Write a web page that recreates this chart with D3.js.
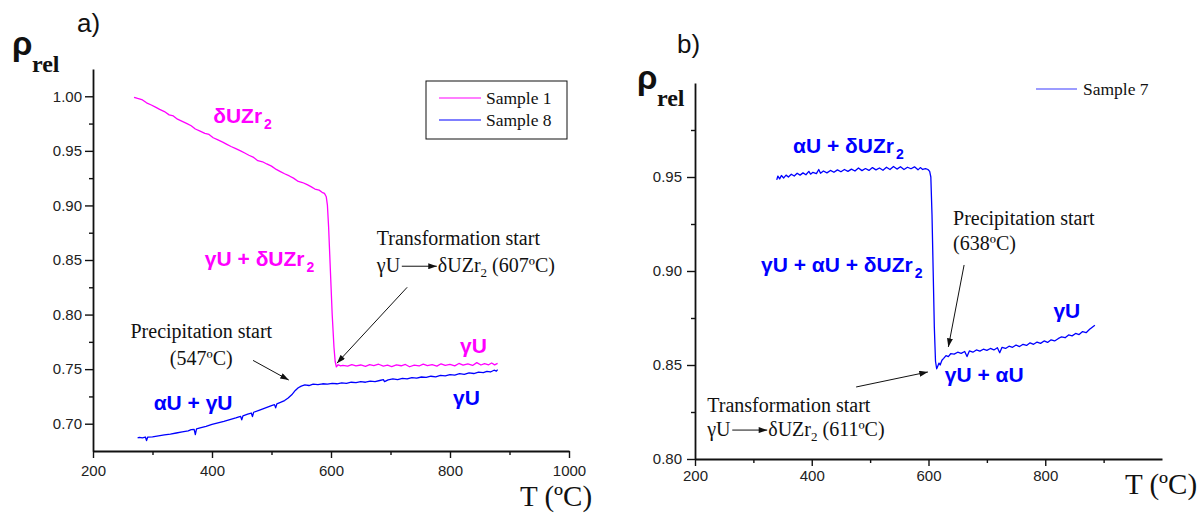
<!DOCTYPE html>
<html><head><meta charset="utf-8">
<script src="https://cdn.jsdelivr.net/npm/d3@7"></script>
<style>body{margin:0;background:#fff}</style></head>
<body>
<svg id="c" width="1204" height="513" xmlns="http://www.w3.org/2000/svg"></svg>
<script>
// ---------- data ----------
const legendA = ["Sample 1", "Sample 8"];
const legendB = ["Sample 7"];

// Sample 1 (panel a, magenta): [T ºC, rho_rel]
const sample1 = [[269,0.999],[275,0.998],[282,0.997],[290,0.994],[298,0.992],[305,0.990],[312,0.988],[320,0.986],[328,0.983],[335,0.982],[342,0.979],[350,0.977],[358,0.975],[365,0.973],[372,0.970],[380,0.968],[388,0.966],[395,0.965],[402,0.962],[410,0.960],[418,0.958],[425,0.956],[432,0.954],[440,0.952],[448,0.950],[455,0.948],[462,0.946],[470,0.944],[477,0.941],[485,0.940],[492,0.938],[500,0.936],[508,0.933],[515,0.931],[522,0.929],[530,0.927],[537,0.925],[545,0.922],[552,0.921],[560,0.919],[567,0.917],[573,0.915],[580,0.914],[585,0.912],[589,0.911],[592,0.908],[594,0.900],[596,0.880],[599,0.840],[602,0.800],[605,0.770],[607,0.757],[609,0.752],[612,0.754],[616,0.753],[620,0.7535],[628,0.7528],[635,0.7542],[642,0.7530],[650,0.7538],[658,0.7526],[665,0.7541],[672,0.7532],[680,0.7545],[688,0.7528],[695,0.7536],[702,0.7524],[710,0.7540],[718,0.7531],[725,0.7543],[732,0.7522],[740,0.7537],[748,0.7529],[755,0.7546],[762,0.7533],[770,0.7541],[778,0.7528],[785,0.7549],[792,0.7535],[800,0.7544],[808,0.7530],[815,0.7552],[822,0.7536],[830,0.7548],[838,0.7534],[845,0.7560],[852,0.7538],[858,0.7551],[865,0.7540],[870,0.7556],[875,0.7539],[880,0.7553]];

// Sample 8 (panel a, blue)
const sample8 = [[275,0.6870],[278,0.6875],[283,0.6870],[288,0.6878],[290,0.6845],[292,0.6878],[300,0.6880],[310,0.6888],[320,0.6897],[330,0.6905],[340,0.6915],[350,0.6925],[360,0.6935],[365,0.6945],[370,0.6948],[372,0.6900],[374,0.6952],[380,0.6962],[390,0.6975],[400,0.6993],[410,0.7008],[420,0.7022],[430,0.7038],[440,0.7054],[448,0.7068],[450,0.7035],[452,0.7072],[460,0.7088],[466,0.7098],[468,0.7065],[470,0.7105],[480,0.7125],[490,0.7145],[500,0.7165],[505,0.7175],[507,0.7145],[509,0.7182],[515,0.7195],[522,0.7212],[528,0.7235],[534,0.7265],[540,0.7305],[545,0.7330],[550,0.7345],[556,0.7355],[563,0.7350],[570,0.7362],[578,0.7358],[586,0.7366],[594,0.7362],[602,0.7370],[610,0.7366],[618,0.7375],[626,0.7370],[634,0.7380],[642,0.7376],[650,0.7385],[658,0.7380],[666,0.7390],[674,0.7386],[682,0.7396],[688,0.7404],[690,0.7385],[696,0.7402],[704,0.7410],[712,0.7404],[720,0.7415],[728,0.7410],[736,0.7422],[744,0.7418],[752,0.7428],[760,0.7424],[768,0.7435],[776,0.7430],[784,0.7442],[792,0.7438],[800,0.7450],[808,0.7446],[816,0.7458],[824,0.7452],[832,0.7465],[840,0.7460],[848,0.7472],[856,0.7468],[862,0.7480],[868,0.7474],[874,0.7490],[878,0.7482],[880,0.7495]];

// Sample 7 (panel b, blue)
const sample7 = [[340,0.9485],[342,0.9505],[345,0.9490],[348,0.9508],[352,0.9495],[356,0.9510],[360,0.9500],[365,0.9515],[370,0.9505],[375,0.9520],[380,0.9510],[385,0.9522],[390,0.9512],[395,0.9530],[398,0.9515],[402,0.9525],[408,0.9518],[412,0.9540],[415,0.9520],[420,0.9532],[426,0.9522],[432,0.9535],[438,0.9525],[444,0.9538],[450,0.9528],[456,0.9540],[462,0.9530],[468,0.9542],[474,0.9532],[480,0.9548],[486,0.9534],[492,0.9545],[498,0.9535],[504,0.9550],[510,0.9538],[516,0.9548],[522,0.9536],[528,0.9552],[534,0.9540],[540,0.9556],[546,0.9542],[552,0.9555],[558,0.9540],[564,0.9552],[570,0.9544],[576,0.9554],[582,0.9538],[586,0.9550],[590,0.9540],[595,0.9545],[599,0.9540],[602,0.9530],[604,0.9500],[606,0.9300],[608,0.9000],[610,0.8700],[612,0.8520],[614,0.8480],[616,0.8495],[618,0.8510],[620,0.8500],[623,0.8525],[626,0.8535],[630,0.8550],[634,0.8545],[638,0.8560],[644,0.8558],[650,0.8568],[656,0.8562],[662,0.8572],[666,0.8545],[670,0.8575],[676,0.8568],[682,0.8580],[688,0.8574],[694,0.8584],[700,0.8578],[706,0.8588],[712,0.8580],[718,0.8592],[722,0.8565],[726,0.8594],[732,0.8588],[738,0.8600],[744,0.8594],[750,0.8606],[756,0.8598],[762,0.8610],[768,0.8604],[774,0.8618],[780,0.8610],[786,0.8622],[792,0.8615],[798,0.8628],[804,0.8620],[810,0.8634],[816,0.8628],[822,0.8640],[828,0.8650],[834,0.8645],[840,0.8660],[846,0.8655],[852,0.8668],[858,0.8662],[864,0.8678],[870,0.8672],[876,0.8690],[880,0.8700],[885,0.8712]];

// ticks
const xTicksA = [200, 400, 600, 800, 1000];
const xMinorA = [300, 500, 700, 900];
const yTicksA = [0.70, 0.75, 0.80, 0.85, 0.90, 0.95, 1.00];
const yMinorA = [0.725, 0.775, 0.825, 0.875, 0.925, 0.975];
const xTicksB = [200, 400, 600, 800];
const xMinorB = [300, 500, 700, 900];
const yTicksB = [0.80, 0.85, 0.90, 0.95];
const yMinorB = [0.825, 0.875, 0.925, 0.975];

// phase labels: [T, rho, text, subscript, colour]
const phasesA = [
  [402, 0.9753, "δUZr", "2", "#ff00ff"],
  [388, 0.8443, "γU + δUZr", "2", "#ff00ff"],
  [817, 0.7647, "γU", "", "#ff00ff"],
  [805, 0.7170, "γU", "", "#0000ff"],
  [302, 0.7125, "αU + γU", "", "#0000ff"]
];
const phasesB = [
  [368, 0.9628, "αU + δUZr", "2", "#0000ff"],
  [313, 0.8995, "γU + αU + δUZr", "2", "#0000ff"],
  [814, 0.8750, "γU", "", "#0000ff"],
  [628, 0.8410, "γU + αU", "", "#0000ff"]
];

// ---------- drawing ----------
const svg = d3.select("#c");
const SANS = "'Liberation Sans', Arial, sans-serif";
const SERIF = "'Liberation Serif', 'Times New Roman', serif";

const defs = svg.append("defs");
defs.append("marker").attr("id","ah").attr("viewBox","0 0 10 7")
  .attr("refX",10).attr("refY",3.5).attr("markerWidth",9).attr("markerHeight",6)
  .attr("markerUnits","userSpaceOnUse").attr("orient","auto")
  .append("path").attr("d","M0,0 L10,3.5 L0,7 Z").attr("fill","#111");

const xA = d3.scaleLinear().domain([200, 1000]).range([93, 569]);
const yA = d3.scaleLinear().domain([0.675, 1.025]).range([451, 69]);
const xB = d3.scaleLinear().domain([200, 1000]).range([695, 1162]);
const yB = d3.scaleLinear().domain([0.80, 1.00]).range([459, 83]);

function drawAxes(x, y, xt, xm, yt, ym, yOrigin, xOrigin, xPad, yPad) {
  const g = svg.append("g");
  g.append("g").attr("transform", `translate(0,${yOrigin})`)
    .call(d3.axisBottom(x).tickValues(xm).tickSize(4).tickSizeOuter(0).tickFormat(""))
    .call(s => s.select(".domain").remove());
  g.append("g").attr("transform", `translate(${xOrigin},0)`)
    .call(d3.axisLeft(y).tickValues(ym).tickSize(4).tickSizeOuter(0).tickFormat(""))
    .call(s => s.select(".domain").remove());
  g.append("g").attr("transform", `translate(0,${yOrigin})`)
    .call(d3.axisBottom(x).tickValues(xt).tickSize(7).tickSizeOuter(0).tickPadding(xPad).tickFormat(d3.format("d")));
  g.append("g").attr("transform", `translate(${xOrigin},0)`)
    .call(d3.axisLeft(y).tickValues(yt).tickSize(8).tickSizeOuter(0).tickPadding(yPad).tickFormat(d3.format(".2f")));
  g.selectAll(".domain").attr("stroke", "#111").attr("stroke-width", 1.8);
  g.selectAll(".tick line").attr("stroke", "#111").attr("stroke-width", 1.4);
  g.selectAll(".tick text").attr("font-family", SANS).attr("font-size", 15).attr("fill", "#222");
}

drawAxes(xA, yA, xTicksA, xMinorA, yTicksA, yMinorA, 451, 93, 7, 3);
drawAxes(xB, yB, xTicksB, xMinorB, yTicksB, yMinorB, 459, 695, 4, 5);

function drawLine(data, x, y, color) {
  svg.append("path").datum(data)
    .attr("fill", "none").attr("stroke", color).attr("stroke-width", 1.3)
    .attr("stroke-linejoin", "round")
    .attr("d", d3.line().x(d => x(d[0])).y(d => y(d[1])));
}
drawLine(sample8, xA, yA, "#0000ff");
drawLine(sample1, xA, yA, "#ff00ff");
drawLine(sample7, xB, yB, "#0000ff");

function phaseLabels(list, x, y) {
  list.forEach(p => {
    const t = svg.append("text").attr("x", x(p[0])).attr("y", y(p[1]))
      .attr("font-family", SANS).attr("font-weight", "bold").attr("font-size", 21)
      .attr("fill", p[4]).text(p[2]);
    if (p[3]) t.append("tspan").attr("dx", 2).attr("dy", 6).attr("font-size", 14).text(p[3]);
  });
}
phaseLabels(phasesA, xA, yA);
phaseLabels(phasesB, xB, yB);

function serifText(xp, yp, str, anchor) {
  return svg.append("text").attr("x", xp).attr("y", yp)
    .attr("font-family", SERIF).attr("font-size", 20).attr("fill", "#111")
    .attr("text-anchor", anchor || "start").text(str);
}
function arrow(x1, y1, x2, y2) {
  svg.append("line").attr("x1", x1).attr("y1", y1).attr("x2", x2).attr("y2", y2)
    .attr("stroke", "#111").attr("stroke-width", 1).attr("marker-end", "url(#ah)");
}
function reaction(xp, yp, temp) {
  serifText(xp, yp, "γU");
  arrow(xp + 25, yp - 6, xp + 60, yp - 6);
  const t = serifText(xp + 61, yp, "δUZr");
  t.append("tspan").attr("dy", 5).attr("font-size", 13).text("2");
  t.append("tspan").attr("dy", -5).text(" (" + temp + "ºC)");
}

// panel a annotations
serifText(xA(382), yA(0.7784), "Precipitation start", "middle");
serifText(xA(382), yA(0.7537), "(547ºC)", "middle");
arrow(xA(469), yA(0.758), xA(529), yA(0.740));
serifText(xA(677), yA(0.8636), "Transformation start");
reaction(xA(677), yA(0.8388), 607);
arrow(xA(728), yA(0.825), xA(610), yA(0.7555));

// panel b annotations
serifText(xB(642), yB(0.9245), "Precipitation start");
serifText(xB(642), yB(0.9112), "(638ºC)");
arrow(xB(661), yB(0.9032), xB(634), yB(0.8596));
serifText(xB(221), yB(0.825), "Transformation start");
reaction(xB(221), yB(0.8122), 611);
arrow(xB(476), yB(0.8383), xB(599), yB(0.8463));

// legend a (boxed)
svg.append("rect").attr("x", 426).attr("y", 81).attr("width", 141).attr("height", 58)
  .attr("fill", "#fff").attr("stroke", "#111").attr("stroke-width", 1);
const colA = ["#ff00ff", "#0000ff"];
const lgA = svg.selectAll(".lgA").data(legendA).enter().append("g")
  .attr("transform", (d, i) => `translate(439,${98 + i * 22})`);
lgA.append("line").attr("x1", 0).attr("x2", 42).attr("stroke", (d, i) => colA[i]).attr("stroke-width", 1.2);
lgA.append("text").attr("x", 47).attr("y", 5.5).attr("font-family", SERIF).attr("font-size", 17.5)
  .attr("fill", "#111").text(d => d);

// legend b
const lgB = svg.selectAll(".lgB").data(legendB).enter().append("g")
  .attr("transform", "translate(1036,89)");
lgB.append("line").attr("x1", 0).attr("x2", 41).attr("stroke", "#3b3bff").attr("stroke-width", 1.2);
lgB.append("text").attr("x", 47).attr("y", 6).attr("font-family", SERIF).attr("font-size", 17.5)
  .attr("fill", "#111").text(d => d);

// panel letters
svg.append("text").attr("x", 77).attr("y", 32).attr("font-family", SANS).attr("font-size", 26).attr("fill", "#111").text("a)");
svg.append("text").attr("x", 677).attr("y", 53).attr("font-family", SANS).attr("font-size", 26).attr("fill", "#111").text("b)");

// axis titles
function rhoTitle(xp, yp) {
  svg.append("text").attr("x", xp).attr("y", yp).attr("font-family", SANS)
    .attr("font-weight", "bold").attr("font-size", 33).attr("fill", "#111").text("ρ");
  svg.append("text").attr("x", xp + 20).attr("y", yp + 17).attr("font-family", SERIF)
    .attr("font-weight", "bold").attr("font-size", 24).attr("fill", "#111").text("rel");
}
rhoTitle(12, 55);
rhoTitle(637, 89);
svg.append("text").attr("x", 520).attr("y", 506).attr("font-family", SERIF).attr("font-size", 29).attr("fill", "#111").text("T (ºC)");
svg.append("text").attr("x", 1125).attr("y", 494).attr("font-family", SERIF).attr("font-size", 29).attr("fill", "#111").text("T (ºC)");
</script>
</body></html>
